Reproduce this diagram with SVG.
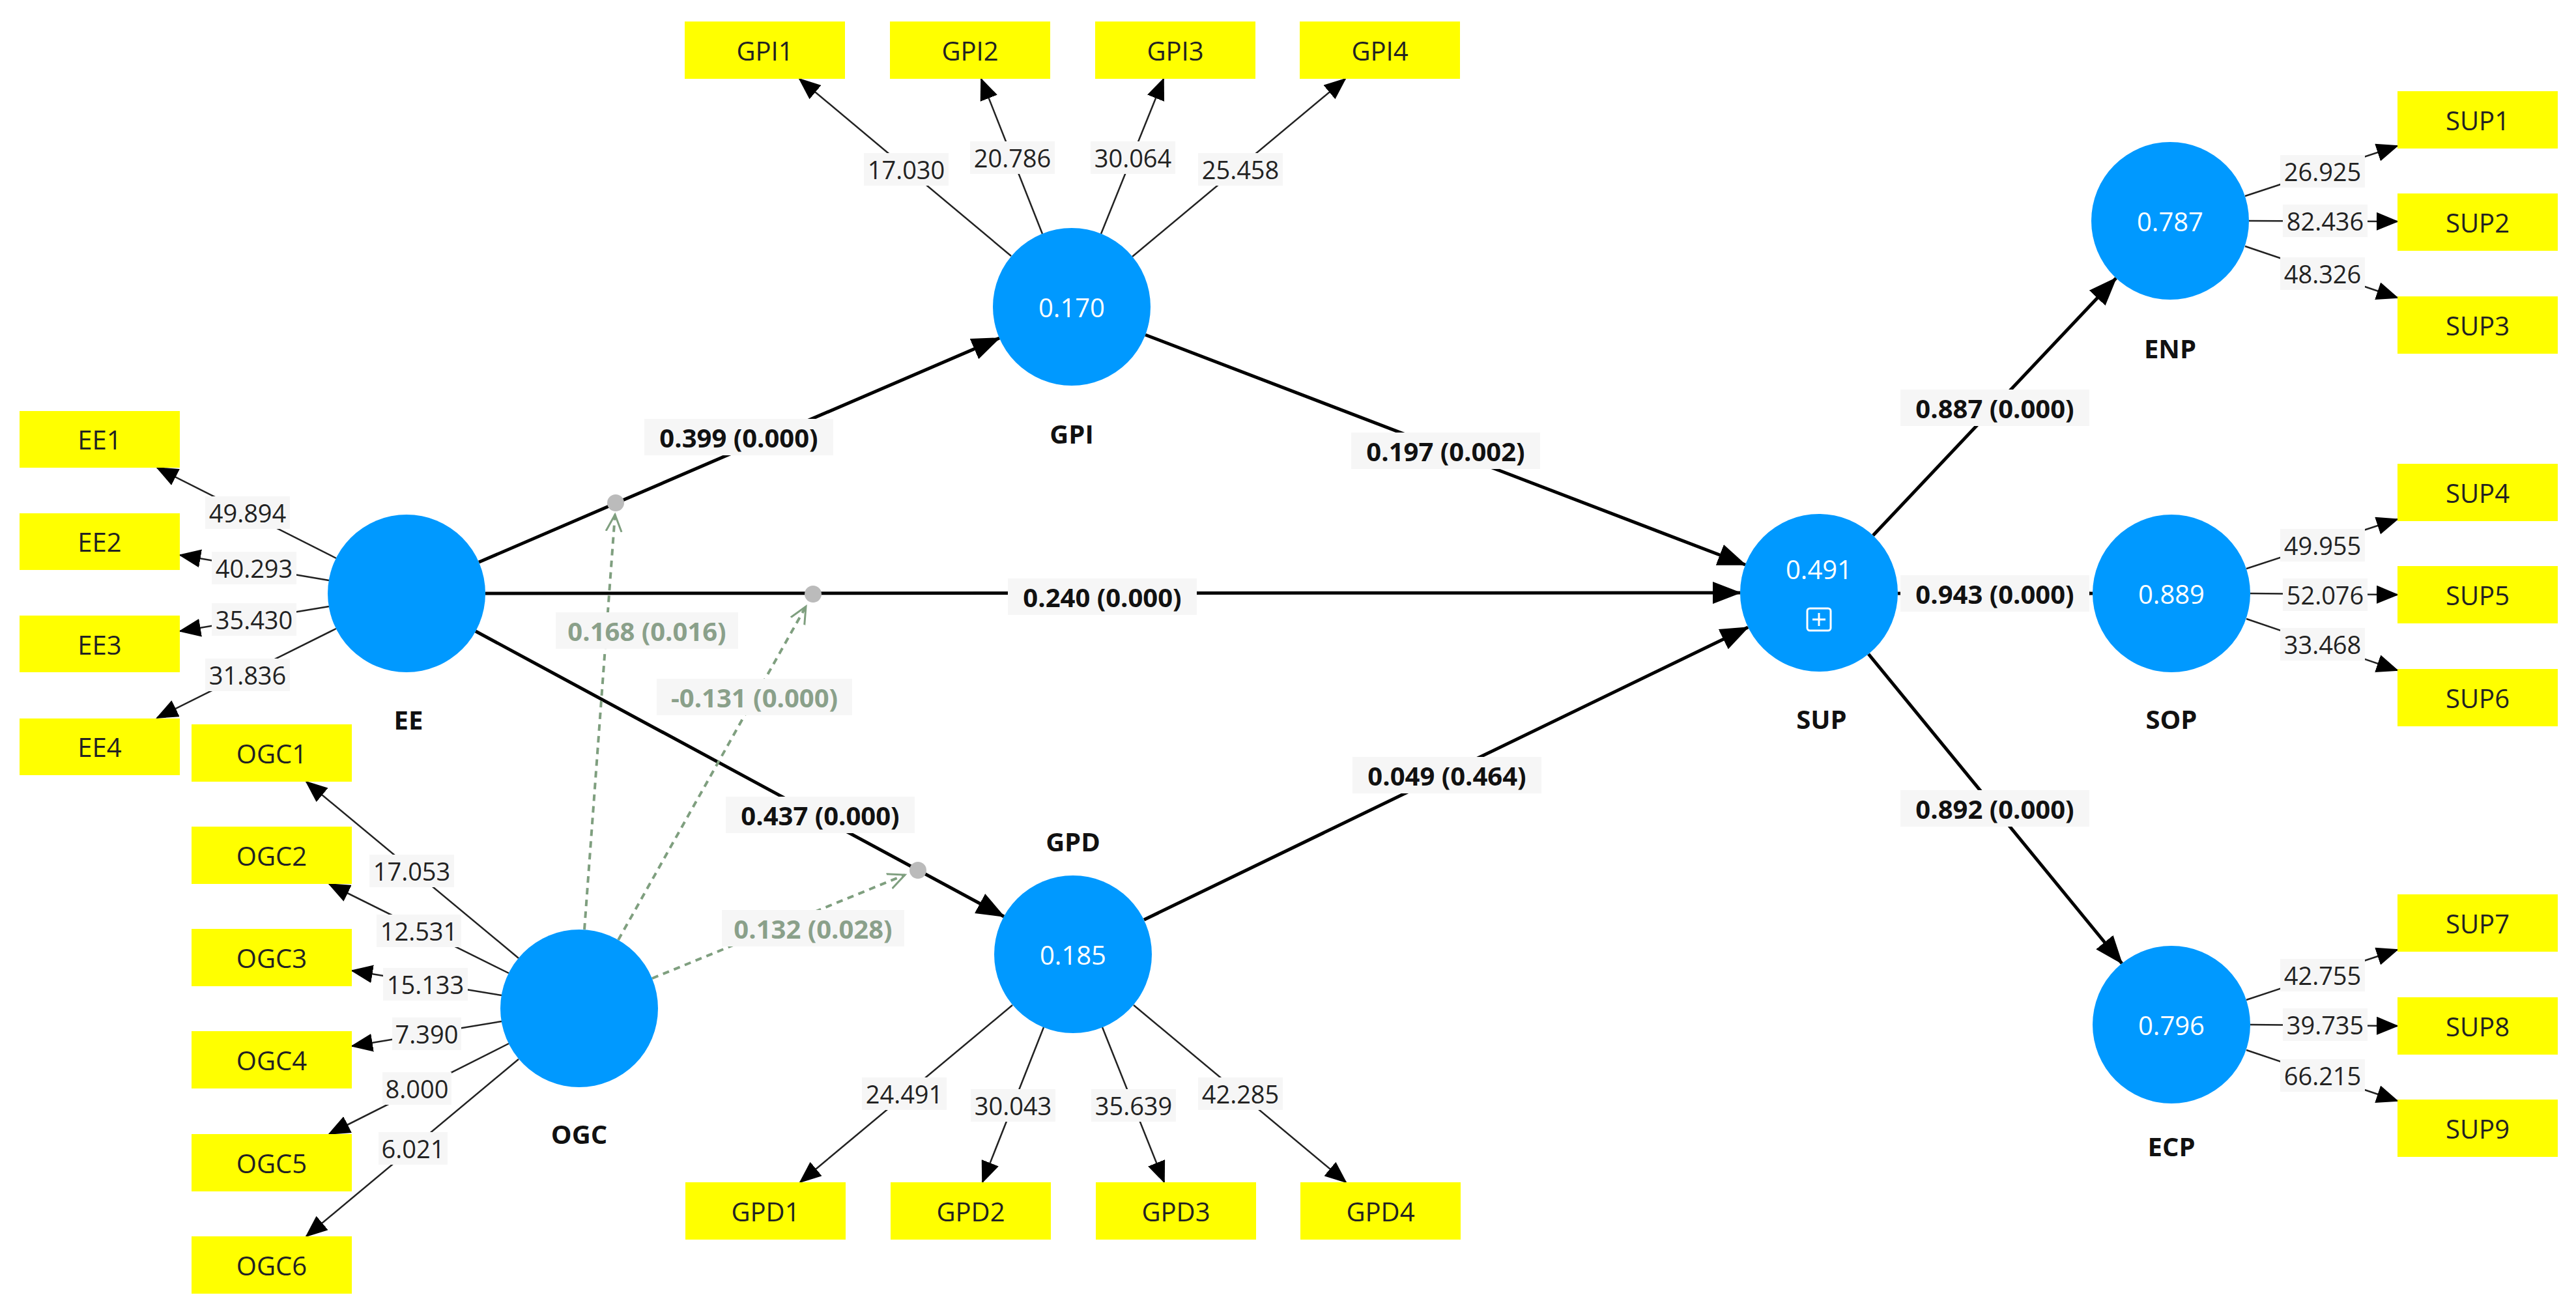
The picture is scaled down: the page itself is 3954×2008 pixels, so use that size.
<svg xmlns="http://www.w3.org/2000/svg" width="3954" height="2008" viewBox="0 0 3954 2008">
<style>
text{font-family:"Open Sans","Liberation Sans",sans-serif;text-anchor:middle;dominant-baseline:central}
.box rect{fill:#ffff00}
.box text{font-size:40px;fill:#222}
.lv circle{fill:#0099ff}
.lv .v{font-size:40px;fill:#fff}
.lv .n{font-size:40px;font-weight:bold;fill:#111}
.path{stroke:#000;stroke-width:5;fill:none;marker-end:url(#ah)}
.load{stroke:#222;stroke-width:2.5;fill:none;marker-end:url(#al)}
.mod{stroke:#7f9f7f;stroke-width:4;stroke-dasharray:10 8;fill:none;marker-end:url(#am)}
.lb rect{fill:#f6f6f6}
.pl{font-size:40px;font-weight:bold;fill:#111}
.ll{font-size:38px;fill:#222}
.ml{font-size:40px;font-weight:bold;fill:#8aa08a}
.dot{fill:#bbbbbb}
</style>
<defs>
<marker id="ah" markerUnits="userSpaceOnUse" markerWidth="44" markerHeight="34" refX="42" refY="17" orient="auto"><path d="M0,0 L44,17 L0,34 Z" fill="#000"/></marker>
<marker id="al" markerUnits="userSpaceOnUse" markerWidth="34" markerHeight="28" refX="32" refY="14" orient="auto"><path d="M0,0 L34,14 L0,28 Z" fill="#000"/></marker>
<marker id="am" markerUnits="userSpaceOnUse" markerWidth="30" markerHeight="30" refX="26" refY="15" orient="auto"><path d="M0,3 L26,15 L0,27" fill="none" stroke="#7f9f7f" stroke-width="3"/></marker>
</defs>
<rect width="3954" height="2008" fill="#fff"/>
<g id="connectors">
<line class="path" x1="735" y1="863" x2="1534" y2="519"/>
<line class="path" x1="745" y1="911" x2="2671" y2="910"/>
<line class="path" x1="730" y1="969" x2="1541" y2="1407"/>
<line class="path" x1="1758" y1="514" x2="2679" y2="867"/>
<line class="path" x1="1756" y1="1412" x2="2683" y2="963"/>
<line class="path" x1="2875" y1="822" x2="3248" y2="427"/>
<line class="path" x1="2913" y1="911" x2="3212" y2="911"/>
<line class="path" x1="2868" y1="1004" x2="3257" y2="1479"/>
<line class="mod" x1="897" y1="1427" x2="944" y2="790"/>
<line class="mod" x1="949" y1="1443" x2="1237" y2="931"/>
<line class="mod" x1="1001" y1="1502" x2="1389" y2="1343"/>
<circle class="dot" cx="945" cy="772" r="13"/>
<circle class="dot" cx="1248" cy="912" r="13"/>
<circle class="dot" cx="1409" cy="1336" r="13"/>
<line class="load" x1="516" y1="857" x2="241" y2="718"/>
<line class="load" x1="505" y1="891" x2="276" y2="852"/>
<line class="load" x1="505" y1="931" x2="276" y2="969"/>
<line class="load" x1="516" y1="965" x2="241" y2="1102"/>
<line class="load" x1="796" y1="1471" x2="470" y2="1200"/>
<line class="load" x1="781" y1="1494" x2="505" y2="1357"/>
<line class="load" x1="770" y1="1528" x2="540" y2="1490"/>
<line class="load" x1="770" y1="1568" x2="540" y2="1606"/>
<line class="load" x1="781" y1="1602" x2="505" y2="1741"/>
<line class="load" x1="796" y1="1626" x2="470" y2="1898"/>
<line class="load" x1="1552" y1="393" x2="1227" y2="121"/>
<line class="load" x1="1600" y1="359" x2="1506" y2="121"/>
<line class="load" x1="1690" y1="359" x2="1786" y2="121"/>
<line class="load" x1="1738" y1="394" x2="2065" y2="121"/>
<line class="load" x1="1554" y1="1543" x2="1228" y2="1815"/>
<line class="load" x1="1602" y1="1577" x2="1508" y2="1815"/>
<line class="load" x1="1692" y1="1577" x2="1787" y2="1815"/>
<line class="load" x1="1740" y1="1543" x2="2066" y2="1815"/>
<line class="load" x1="3446" y1="301" x2="3680" y2="224"/>
<line class="load" x1="3452" y1="339" x2="3680" y2="340"/>
<line class="load" x1="3446" y1="378" x2="3680" y2="457"/>
<line class="load" x1="3448" y1="873" x2="3680" y2="797"/>
<line class="load" x1="3454" y1="911" x2="3680" y2="913"/>
<line class="load" x1="3448" y1="950" x2="3680" y2="1029"/>
<line class="load" x1="3448" y1="1535" x2="3680" y2="1458"/>
<line class="load" x1="3454" y1="1573" x2="3680" y2="1575"/>
<line class="load" x1="3448" y1="1612" x2="3680" y2="1690"/>
</g>
<g id="labels" class="lb">
<rect x="989" y="643" width="290" height="56"/><text class="pl" x="1134" y="671">0.399 (0.000)</text>
<rect x="1547" y="888" width="290" height="56"/><text class="pl" x="1692" y="916">0.240 (0.000)</text>
<rect x="1114" y="1223" width="290" height="56"/><text class="pl" x="1259" y="1251">0.437 (0.000)</text>
<rect x="2074" y="664" width="290" height="56"/><text class="pl" x="2219" y="692">0.197 (0.002)</text>
<rect x="2076" y="1162" width="290" height="56"/><text class="pl" x="2221" y="1190">0.049 (0.464)</text>
<rect x="2917" y="598" width="290" height="56"/><text class="pl" x="3062" y="626">0.887 (0.000)</text>
<rect x="2917" y="883" width="290" height="56"/><text class="pl" x="3062" y="911">0.943 (0.000)</text>
<rect x="2917" y="1213" width="290" height="56"/><text class="pl" x="3062" y="1241">0.892 (0.000)</text>
<rect x="853" y="940" width="280" height="56"/><text class="ml" x="993" y="968">0.168 (0.016)</text>
<rect x="1008" y="1042" width="300" height="56"/><text class="ml" x="1158" y="1070">-0.131 (0.000)</text>
<rect x="1108" y="1397" width="280" height="56"/><text class="ml" x="1248" y="1425">0.132 (0.028)</text>
<rect x="315" y="762" width="130" height="50"/><text class="ll" x="380" y="787">49.894</text>
<rect x="325" y="847" width="130" height="50"/><text class="ll" x="390" y="872">40.293</text>
<rect x="325" y="926" width="130" height="50"/><text class="ll" x="390" y="951">35.430</text>
<rect x="315" y="1011" width="130" height="50"/><text class="ll" x="380" y="1036">31.836</text>
<rect x="567" y="1312" width="130" height="50"/><text class="ll" x="632" y="1337">17.053</text>
<rect x="578" y="1404" width="130" height="50"/><text class="ll" x="643" y="1429">12.531</text>
<rect x="588" y="1486" width="130" height="50"/><text class="ll" x="653" y="1511">15.133</text>
<rect x="602" y="1562" width="106" height="50"/><text class="ll" x="655" y="1587">7.390</text>
<rect x="587" y="1646" width="106" height="50"/><text class="ll" x="640" y="1671">8.000</text>
<rect x="581" y="1738" width="106" height="50"/><text class="ll" x="634" y="1763">6.021</text>
<rect x="1326" y="235" width="130" height="50"/><text class="ll" x="1391" y="260">17.030</text>
<rect x="1489" y="217" width="130" height="50"/><text class="ll" x="1554" y="242">20.786</text>
<rect x="1674" y="217" width="130" height="50"/><text class="ll" x="1739" y="242">30.064</text>
<rect x="1839" y="235" width="130" height="50"/><text class="ll" x="1904" y="260">25.458</text>
<rect x="1323" y="1654" width="130" height="50"/><text class="ll" x="1388" y="1679">24.491</text>
<rect x="1490" y="1672" width="130" height="50"/><text class="ll" x="1555" y="1697">30.043</text>
<rect x="1675" y="1672" width="130" height="50"/><text class="ll" x="1740" y="1697">35.639</text>
<rect x="1839" y="1654" width="130" height="50"/><text class="ll" x="1904" y="1679">42.285</text>
<rect x="3500" y="238" width="130" height="50"/><text class="ll" x="3565" y="263">26.925</text>
<rect x="3504" y="314" width="130" height="50"/><text class="ll" x="3569" y="339">82.436</text>
<rect x="3500" y="395" width="130" height="50"/><text class="ll" x="3565" y="420">48.326</text>
<rect x="3500" y="812" width="130" height="50"/><text class="ll" x="3565" y="837">49.955</text>
<rect x="3504" y="888" width="130" height="50"/><text class="ll" x="3569" y="913">52.076</text>
<rect x="3500" y="964" width="130" height="50"/><text class="ll" x="3565" y="989">33.468</text>
<rect x="3500" y="1472" width="130" height="50"/><text class="ll" x="3565" y="1497">42.755</text>
<rect x="3504" y="1548" width="130" height="50"/><text class="ll" x="3569" y="1573">39.735</text>
<rect x="3500" y="1626" width="130" height="50"/><text class="ll" x="3565" y="1651">66.215</text>
</g>
<g id="EE" class="lv"><circle cx="624" cy="911" r="121"/><text class="n" x="627" y="1104">EE</text></g>
<g id="OGC" class="lv"><circle cx="889" cy="1548" r="121"/><text class="n" x="889" y="1740">OGC</text></g>
<g id="GPI" class="lv"><circle cx="1645" cy="471" r="121"/><text class="v" x="1645" y="471">0.170</text><text class="n" x="1645" y="665">GPI</text></g>
<g id="GPD" class="lv"><circle cx="1647" cy="1465" r="121"/><text class="v" x="1647" y="1465">0.185</text><text class="n" x="1647" y="1291">GPD</text></g>
<g id="SUP" class="lv"><circle cx="2792" cy="910" r="121"/><text class="v" x="2792" y="873">0.491</text><rect x="2774" y="934" width="36" height="34" rx="4" fill="none" stroke="#fff" stroke-width="3"/><path d="M2792,941 V961 M2782,951 H2802" stroke="#fff" stroke-width="3"/><text class="n" x="2796" y="1103">SUP</text></g>
<g id="ENP" class="lv"><circle cx="3331" cy="339" r="121"/><text class="v" x="3331" y="339">0.787</text><text class="n" x="3331" y="534">ENP</text></g>
<g id="SOP" class="lv"><circle cx="3333" cy="911" r="121"/><text class="v" x="3333" y="911">0.889</text><text class="n" x="3333" y="1103">SOP</text></g>
<g id="ECP" class="lv"><circle cx="3333" cy="1573" r="121"/><text class="v" x="3333" y="1573">0.796</text><text class="n" x="3333" y="1759">ECP</text></g>
<g id="EE1" class="box"><rect x="30" y="631" width="246" height="87"/><text x="153" y="674">EE1</text></g>
<g id="EE2" class="box"><rect x="30" y="788" width="246" height="87"/><text x="153" y="831">EE2</text></g>
<g id="EE3" class="box"><rect x="30" y="945" width="246" height="87"/><text x="153" y="989">EE3</text></g>
<g id="EE4" class="box"><rect x="30" y="1103" width="246" height="87"/><text x="153" y="1146">EE4</text></g>
<g id="OGC1" class="box"><rect x="294" y="1112" width="246" height="88"/><text x="417" y="1156">OGC1</text></g>
<g id="OGC2" class="box"><rect x="294" y="1269" width="246" height="88"/><text x="417" y="1313">OGC2</text></g>
<g id="OGC3" class="box"><rect x="294" y="1426" width="246" height="88"/><text x="417" y="1470">OGC3</text></g>
<g id="OGC4" class="box"><rect x="294" y="1583" width="246" height="88"/><text x="417" y="1627">OGC4</text></g>
<g id="OGC5" class="box"><rect x="294" y="1741" width="246" height="88"/><text x="417" y="1785">OGC5</text></g>
<g id="OGC6" class="box"><rect x="294" y="1898" width="246" height="88"/><text x="417" y="1942">OGC6</text></g>
<g id="GPI1" class="box"><rect x="1051" y="33" width="246" height="88"/><text x="1174" y="77">GPI1</text></g>
<g id="GPI2" class="box"><rect x="1366" y="33" width="246" height="88"/><text x="1489" y="77">GPI2</text></g>
<g id="GPI3" class="box"><rect x="1681" y="33" width="246" height="88"/><text x="1804" y="77">GPI3</text></g>
<g id="GPI4" class="box"><rect x="1995" y="33" width="246" height="88"/><text x="2118" y="77">GPI4</text></g>
<g id="GPD1" class="box"><rect x="1052" y="1815" width="246" height="88"/><text x="1175" y="1859">GPD1</text></g>
<g id="GPD2" class="box"><rect x="1367" y="1815" width="246" height="88"/><text x="1490" y="1859">GPD2</text></g>
<g id="GPD3" class="box"><rect x="1682" y="1815" width="246" height="88"/><text x="1805" y="1859">GPD3</text></g>
<g id="GPD4" class="box"><rect x="1996" y="1815" width="246" height="88"/><text x="2119" y="1859">GPD4</text></g>
<g id="SUP1" class="box"><rect x="3680" y="140" width="246" height="88"/><text x="3803" y="184">SUP1</text></g>
<g id="SUP2" class="box"><rect x="3680" y="297" width="246" height="88"/><text x="3803" y="341">SUP2</text></g>
<g id="SUP3" class="box"><rect x="3680" y="455" width="246" height="88"/><text x="3803" y="499">SUP3</text></g>
<g id="SUP4" class="box"><rect x="3680" y="712" width="246" height="88"/><text x="3803" y="756">SUP4</text></g>
<g id="SUP5" class="box"><rect x="3680" y="869" width="246" height="88"/><text x="3803" y="913">SUP5</text></g>
<g id="SUP6" class="box"><rect x="3680" y="1027" width="246" height="88"/><text x="3803" y="1071">SUP6</text></g>
<g id="SUP7" class="box"><rect x="3680" y="1373" width="246" height="88"/><text x="3803" y="1417">SUP7</text></g>
<g id="SUP8" class="box"><rect x="3680" y="1531" width="246" height="88"/><text x="3803" y="1575">SUP8</text></g>
<g id="SUP9" class="box"><rect x="3680" y="1688" width="246" height="88"/><text x="3803" y="1732">SUP9</text></g>
</svg>
